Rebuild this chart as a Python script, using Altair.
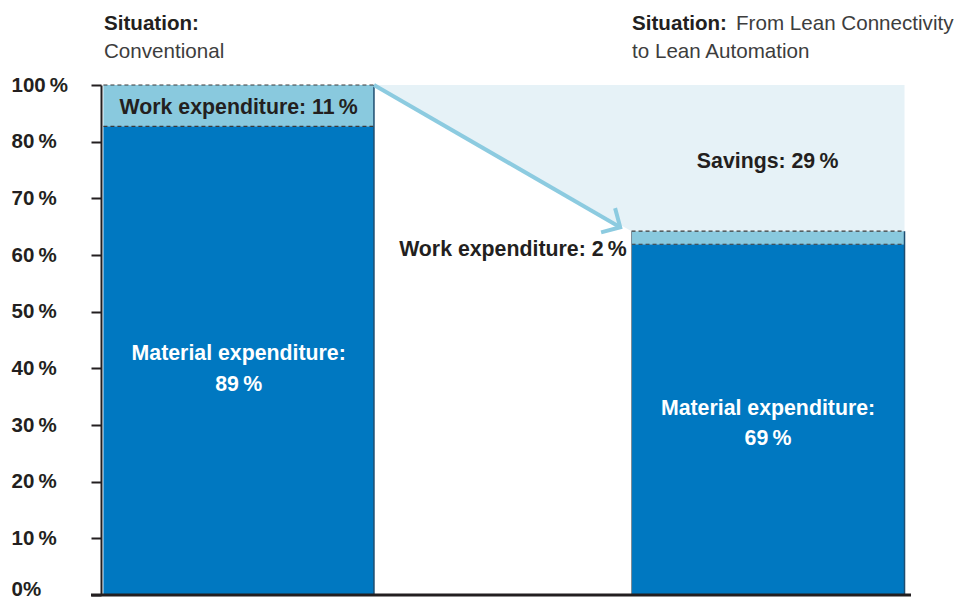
import altair as alt
import pandas as pd

# ---- data (axis units: the illustration's y-axis places "100 %" one step above "80 %") ----
situations = ["Conventional", "Lean Automation"]
bar_x0 = [0.3, 65.5]
bar_x1 = [33.7, 99.2]
material_top = [82.7, 61.9]
total_top = [90.0, 64.2]

tick_positions = [0, 10, 20, 30, 40, 50, 60, 70, 80, 90]
tick_labels = ["0%", "10\u2009%", "20\u2009%", "30\u2009%", "40\u2009%", "50\u2009%",
               "60\u2009%", "70\u2009%", "80\u2009%", "100\u2009%"]

savings_x = [33.7, 65.5, 99.2]
savings_top = [90.0, 90.0, 90.0]
savings_bottom = [90.0, 64.2, 64.2]

arrow_start = (33.7, 90.0)
arrow_end = (64.1, 64.9)

DARK = "#231f20"
MAT = "#0078c1"
WORK = "#89c9de"
SAVE = "#e6f2f7"
ARROW = "#8ccbe0"
FONT = "Liberation Sans"
FS_B = 21.3
FS_R = 20.6
FS_AX = 20.5

label_expr = " : ".join(
    [f"datum.value == {p} ? '{l}'" for p, l in zip(tick_positions, tick_labels)]
) + " : ''"

yscale = alt.Scale(domain=[0, 90], nice=False, zero=True)
xscale = alt.Scale(domain=[0, 100], nice=False, zero=False)
Y_AX = alt.Axis(values=tick_positions, labelExpr=label_expr, title=None, grid=False,
                domainColor=DARK, domainWidth=2, tickColor=DARK, tickWidth=2, tickSize=10,
                labelAlign="left", labelPadding=80, labelFont=FONT, labelFontWeight="bold",
                labelFontSize=FS_AX, labelColor=DARK,
                labelBaseline={"condition": {"test": "datum.value === 0", "value": "alphabetic"},
                               "value": "middle"})

def X(f):
    return alt.X(f, type="quantitative", scale=xscale, axis=None)

def Yf(f):
    return alt.Y(f, type="quantitative", scale=yscale, axis=Y_AX)

# segments
seg_rows = []
for i, s in enumerate(situations):
    seg_rows.append(dict(sit=s, part="Material", x0=bar_x0[i], x1=bar_x1[i], y0=0, y1=material_top[i]))
    seg_rows.append(dict(sit=s, part="Work", x0=bar_x0[i], x1=bar_x1[i], y0=material_top[i], y1=total_top[i]))
seg_df = pd.DataFrame(seg_rows)

sav_df = pd.DataFrame(dict(x=savings_x, y=savings_top, y2=savings_bottom))

savings = alt.Chart(sav_df).mark_area(color=SAVE, interpolate="linear").encode(
    x=X("x"), y=Yf("y"), y2="y2"
)

bars = alt.Chart(seg_df).mark_rect().encode(
    x=X("x0"), x2="x1", y=Yf("y0"), y2="y1",
    color=alt.Color("part:N", scale=alt.Scale(domain=["Material", "Work"], range=[MAT, WORK]), legend=None),
)

dash_rows = []
for i in range(2):
    dash_rows.append(dict(x0=bar_x0[i], x1=bar_x1[i], y=material_top[i]))
    dash_rows.append(dict(x0=bar_x0[i], x1=bar_x1[i], y=total_top[i]))
dashes = alt.Chart(pd.DataFrame(dash_rows)).mark_rule(
    color="#3a3a3a", strokeDash=[4, 3], strokeWidth=1.2
).encode(x=X("x0"), x2="x1", y=Yf("y"))

edge_df = pd.DataFrame(dict(x=bar_x1, y0=[0, 0], y1=total_top))
edges = alt.Chart(edge_df).mark_rule(color="#1e4d70", strokeWidth=1.5).encode(
    x=X("x"), y=Yf("y0"), y2="y1"
)
ledge_df = pd.DataFrame(dict(x=[bar_x0[1]], y0=[0], y1=[total_top[1]]))
ledges = alt.Chart(ledge_df).mark_rule(color="#7a8a95", strokeWidth=1).encode(
    x=X("x"), y=Yf("y0"), y2="y1"
)

arrow_df = pd.DataFrame(dict(x=[arrow_start[0]], y=[arrow_start[1]], x2=[arrow_end[0]], y2=[arrow_end[1]]))
arrow_line = alt.Chart(arrow_df).mark_rule(color=ARROW, strokeWidth=4, strokeCap="butt").encode(
    x=X("x"), y=Yf("y"), x2="x2", y2="y2"
)
head_df = pd.DataFrame(dict(x=[arrow_end[0]], y=[arrow_end[1]]))
arrow_head = alt.Chart(head_df).mark_point(
    shape="M -1 -1 L 0 0 L -1 1", filled=False, stroke=ARROW, strokeWidth=4,
    size=784, angle=30, opacity=1, strokeJoin="miter"
).encode(x=X("x"), y=Yf("y"))

baseline = alt.Chart(pd.DataFrame(dict(y=[0]))).mark_rule(color=DARK, strokeWidth=3).encode(
    y=Yf("y"), x=alt.value(-10), x2=alt.value(810)
)

# labels
lab_df = pd.DataFrame([
    dict(t="Work expenditure: 11\u2009%", x=17.0, y=85.95, c="dark"),
    dict(t="Material expenditure:", x=17.0, y=42.55, c="white"),
    dict(t="89\u2009%", x=17.0, y=37.05, c="white"),
    dict(t="Material expenditure:", x=82.35, y=32.85, c="white"),
    dict(t="69\u2009%", x=82.35, y=27.55, c="white"),
    dict(t="Savings: 29\u2009%", x=82.3, y=76.45, c="dark"),
])
def text_layer(df, align, color, weight="bold", size=FS_B):
    return alt.Chart(df).mark_text(
        font=FONT, fontSize=size, fontWeight=weight, align=align, baseline="middle", color=color
    ).encode(x=X("x"), y=Yf("y"), text="t:N")

texts_dark = text_layer(lab_df[lab_df.c == "dark"], "center", DARK)
texts_white = text_layer(lab_df[lab_df.c == "white"], "center", "white")
work2 = text_layer(pd.DataFrame([dict(t="Work expenditure: 2\u2009%", x=64.9, y=60.85)]), "right", DARK)

title_bold = pd.DataFrame([
    dict(t="Situation:", x=0.37, y=100.75),
    dict(t="Situation:", x=65.56, y=100.75),
])
title_reg = pd.DataFrame([
    dict(t="Conventional", x=0.37, y=95.85),
    dict(t="From Lean Connectivity", x=78.4, y=100.75),
    dict(t="to Lean Automation", x=65.56, y=95.85),
])
titles_b = text_layer(title_bold, "left", DARK, size=FS_R)
titles_r = text_layer(title_reg, "left", "#3d3d3d", weight="normal", size=FS_R)

chart = alt.layer(
    savings, bars, dashes, edges, ledges, arrow_line, arrow_head, baseline,
    texts_dark, texts_white, work2, titles_b, titles_r
).properties(
    width=810, height=510,
    padding={"left": 101, "top": 85, "right": 50, "bottom": 7},
    autosize=alt.AutoSizeParams(type="none"),
).configure_view(stroke=None)

chart.save("out.html", embed_options={"renderer": "svg", "actions": False})
